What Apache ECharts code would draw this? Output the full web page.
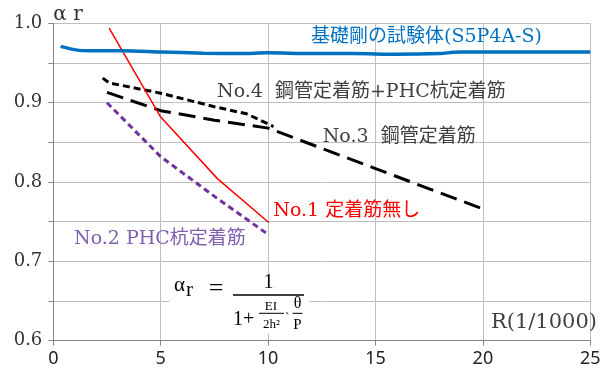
<!DOCTYPE html>
<html><head><meta charset="utf-8">
<script src="https://cdn.jsdelivr.net/npm/echarts@6/dist/echarts.min.js"></script>
<style>html,body{margin:0;padding:0;background:#fff}#c{width:611px;height:374px}</style>
</head><body><div id="c"></div>
<script>
// ---- data ----
const xMin = 0, xMax = 25, xStep = 5;
const yMin = 0.6, yMax = 1.0, yStep = 0.05;
const yLabelValues = ['0.6','0.7','0.8','0.9','1.0'];

const baseX = [0.34, 1.2, 2, 3.2, 5, 7, 8.7, 10, 12, 14, 16, 18, 18.6, 19, 20, 22, 25];
const baseY = [0.971, 0.966, 0.9655, 0.9655, 0.964, 0.9625, 0.962, 0.963, 0.962, 0.962, 0.961, 0.962, 0.9635, 0.964, 0.964, 0.964, 0.964];

const no1X = [2.6, 5.0, 7.65, 10.03];
const no1Y = [0.994, 0.882, 0.804, 0.749];

const no2X = [2.5, 5.0, 7.6, 10.05];
const no2Y = [0.900, 0.832, 0.780, 0.733];

const no3X = [2.5, 5.0, 7.5, 10.0, 15.0, 20.1];
const no3Y = [0.913, 0.890, 0.878, 0.868, 0.817, 0.765];

const no4X = [2.3, 2.6, 5.0, 7.5, 9.0, 10.25];
const no4Y = [0.931, 0.925, 0.912, 0.895, 0.886, 0.870];

const seriesNames = ['基礎剛の試験体(S5P4A-S)', 'No.1 定着筋無し', 'No.2 PHC杭定着筋', 'No.3  鋼管定着筋', 'No.4  鋼管定着筋+PHC杭定着筋'];
const yAxisName = 'α r';
const xAxisName = 'R(1/1000)';

// ---- build ----
const zip = (xs, ys) => xs.map((x, i) => [x, ys[i]]);
const SERIF = "'DejaVu Serif','Noto Sans CJK JP',serif";
const LSERIF = "'Liberation Serif','DejaVu Serif',serif";
const SANS = "'Noto Sans','Noto Sans CJK JP',sans-serif";

const chart = echarts.init(document.getElementById('c'), null, {renderer: 'canvas'});

function txt(x, y, text, size, color, opts) {
  opts = opts || {};
  return {
    type: 'text', x: x, y: y, z: 100,
    style: {
      text: text, fill: color,
      font: (opts.italic ? 'italic ' : '') + (opts.bold ? 'bold ' : '') + size + 'px ' + (opts.family || SERIF),
      align: opts.align || 'left', textAlign: opts.align || 'left',
      verticalAlign: 'middle', textVerticalAlign: 'middle'
    }
  };
}
function bar(x1, x2, y, w) {
  return {type: 'line', z: 100, shape: {x1: x1, y1: y, x2: x2, y2: y}, style: {stroke: '#000', lineWidth: w || 1.2}};
}

const option = {
  animation: false,
  backgroundColor: '#fff',
  grid: {left: 53.3, right: 20.7, top: 23.4, bottom: 33.3, containLabel: false},
  xAxis: {
    type: 'value', min: xMin, max: xMax, interval: xStep,
    axisLine: {show: true, onZero: false, lineStyle: {color: '#868686', width: 1}},
    axisTick: {show: true, length: 5, lineStyle: {color: '#868686'}},
    axisLabel: {margin: 9, fontSize: 18, fontFamily: SANS, color: '#222'},
    splitLine: {show: true, lineStyle: {color: '#BEBEBE', width: 1}}
  },
  yAxis: {
    type: 'value', min: yMin, max: yMax, interval: yStep,
    name: yAxisName, nameLocation: 'end', nameGap: -1,
    nameTextStyle: {fontSize: 20, fontFamily: SERIF, color: '#333', align: 'left', verticalAlign: 'bottom'},
    axisLine: {show: true, lineStyle: {color: '#868686', width: 1}},
    axisTick: {show: true, length: 5, lineStyle: {color: '#868686'}},
    axisLabel: {
      margin: 11, fontSize: 18, fontFamily: SERIF, color: '#333',
      formatter: v => { const s = v.toFixed(1); return (Math.abs(v - Number(s)) < 1e-6 && yLabelValues.includes(s)) ? s : ''; }
    },
    splitLine: {show: true, lineStyle: {color: '#BEBEBE', width: 1}}
  },
  series: [
    {name: seriesNames[2], type: 'line', data: zip(no2X, no2Y), symbol: 'none', z: 3,
     lineStyle: {color: '#7030A0', width: 3, type: [6, 4]}},
    {name: seriesNames[3], type: 'line', data: zip(no3X, no3Y), symbol: 'none', z: 3,
     lineStyle: {color: '#000', width: 3, type: [17, 8]}},
    {name: seriesNames[4], type: 'line', data: zip(no4X, no4Y), symbol: 'none', z: 3,
     lineStyle: {color: '#000', width: 3, type: [7, 4]}},
    {name: seriesNames[1], type: 'line', data: zip(no1X, no1Y), symbol: 'none', z: 4,
     lineStyle: {color: '#FF0000', width: 1.5}},
    {name: seriesNames[0], type: 'line', data: zip(baseX, baseY), symbol: 'none', z: 5, smooth: 0.3,
     lineStyle: {color: '#0070C0', width: 3.5}}
  ],
  graphic: [
    txt(311, 37, seriesNames[0], 19, '#0070C0'),
    txt(217, 92.5, seriesNames[4], 19, '#404040'),
    txt(322.7, 136.7, seriesNames[3], 19, '#404040'),
    txt(273.3, 211, seriesNames[1], 19, '#FF0000'),
    txt(74, 239, seriesNames[2], 19, '#7F5FB0'),
    txt(597, 323, xAxisName, 21, '#404040', {align: 'right'}),
    // formula box
    {type: 'rect', z: 90, shape: {x: 169, y: 274, width: 140, height: 60}, style: {fill: '#fff'}},
    txt(174, 285, 'α', 21, '#000', {family: LSERIF}),
    txt(186, 290, 'r', 21, '#000', {family: LSERIF}),
    txt(216, 289, '=', 26, '#000', {align: 'center', family: LSERIF}),
    bar(233, 304, 295, 1.4),
    txt(268.5, 283, '1', 20, '#000', {align: 'center', family: LSERIF}),
    txt(233, 320, '1+', 20, '#000', {family: LSERIF}),
    txt(271, 306.5, 'EI', 13, '#000', {align: 'center', family: LSERIF}),
    bar(259, 284, 313.3, 1),
    txt(271.5, 325, '2h²', 13, '#000', {align: 'center', family: LSERIF}),
    txt(285.5, 312, '、', 9, '#000'),
    txt(297.5, 304, 'θ', 16, '#000', {align: 'center', family: LSERIF}),
    bar(292.5, 302.5, 313.3, 1),
    txt(297.5, 325, 'P', 15, '#000', {align: 'center', family: LSERIF})
  ]
};
chart.setOption(option);
</script>
</body></html>
